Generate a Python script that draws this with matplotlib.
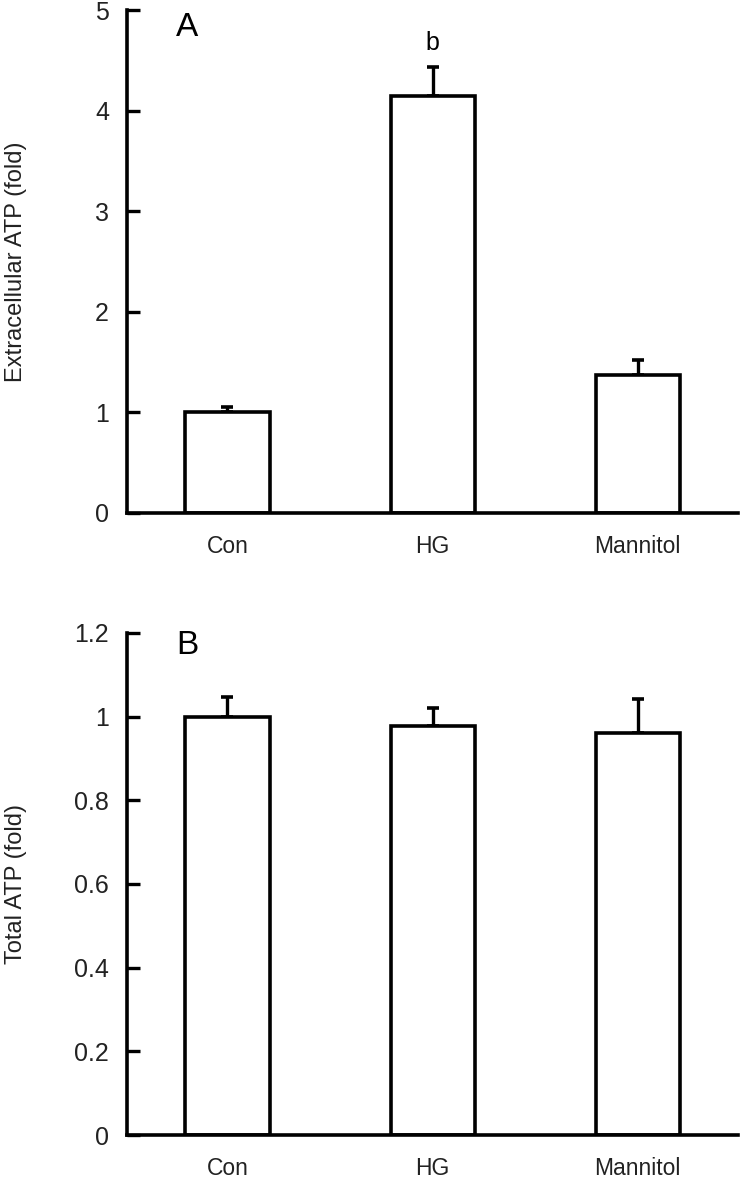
import matplotlib.pyplot as plt
import numpy as np

plt.rcParams['font.family'] = ['Liberation Sans', 'DejaVu Sans']

groups = ['Con', 'HG', 'Mannitol']
extra_atp = [1.00, 4.15, 1.37]
extra_err = [0.05, 0.28, 0.15]
total_atp = [1.00, 0.978, 0.962]
total_err = [0.048, 0.043, 0.079]

fig = plt.figure(figsize=(7.4, 11.8), dpi=100, facecolor='white')
axA = fig.add_axes([0.1716, 0.5653, 0.826, 0.4262])
axB = fig.add_axes([0.1716, 0.0381, 0.826, 0.4255])

x = np.arange(len(groups))


def style(ax, vals, errs, ylim, ticks, ticklabels, ylabel, letter, ly):
    ax.bar(x, vals, width=0.41, color='white', edgecolor='black', linewidth=2.6, zorder=2)
    ax.errorbar(x, vals, yerr=[np.zeros(len(errs)), errs], fmt='none', ecolor='black',
                elinewidth=2.4, capsize=4.5, capthick=2.6, zorder=1)
    ax.set_xlim(-0.49, 2.49)
    ax.set_ylim(*ylim)
    ax.set_yticks(ticks)
    ax.set_yticklabels(ticklabels)
    ax.set_xticks(x)
    ax.set_xticklabels(groups)
    for s in ['top', 'right']:
        ax.spines[s].set_visible(False)
    for s in ['left', 'bottom']:
        ax.spines[s].set_linewidth(2.6)
    ax.tick_params(axis='y', direction='in', length=9, width=2.4, labelsize=18, pad=13,
                   labelcolor='#222222')
    ax.tick_params(axis='x', length=0, labelsize=16.5, pad=16, labelcolor='#222222')
    ax.set_ylabel(ylabel, fontsize=17, color='#222222')
    ax.yaxis.set_label_coords(-0.163, 0.5)
    ax.text(0.098, ly, letter, transform=ax.transAxes, fontsize=24, ha='center', va='center')


style(axA, extra_atp, extra_err, (0, 5), [0, 1, 2, 3, 4, 5], ['0', '1', '2', '3', '4', '5'],
      'Extracellular ATP (fold)', 'A', 0.966)
style(axB, total_atp, total_err, (0, 1.2), [0, 0.2, 0.4, 0.6, 0.8, 1.0, 1.2],
      ['0', '0.2', '0.4', '0.6', '0.8', '1', '1.2'], 'Total ATP (fold)', 'B', 0.976)

axA.text(x[1], extra_atp[1] + extra_err[1] + 0.12, 'b', ha='center', va='bottom', fontsize=18)

fig.savefig('out.png', dpi=100, facecolor='white')
